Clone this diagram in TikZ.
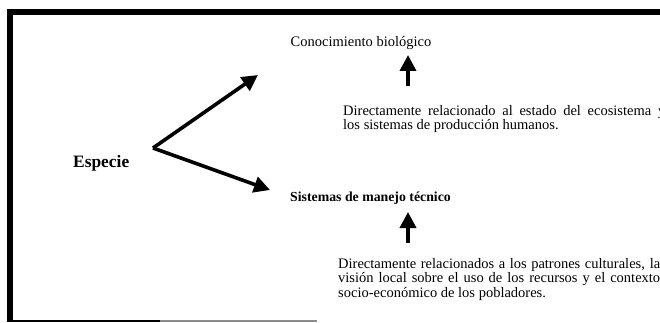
\documentclass[tikz,border=0pt]{standalone}
\usepackage{fontspec}
\setmainfont{Liberation Serif}
\usetikzlibrary{arrows.meta}

\begin{document}
\begin{tikzpicture}[x=1pt,y=-1pt,
  flecha/.style={line width=3.6pt,-{Triangle[length=16pt,width=16pt]}},
  titulo/.style={anchor=base west,inner sep=0pt,font=\fontsize{14.5}{16}\selectfont},
  bloque/.style={anchor=north west,inner sep=0pt,text width=322pt,align=justify,font=\fontsize{14.5}{11.7}\selectfont}]
\useasboundingbox (0,0) rectangle (660,323);
\clip (0,0) rectangle (660,323);
% marco
\draw[line width=6pt] (10,321) -- (10,12) -- (680,12);
\draw[line width=2.5pt] (7,321) -- (160,321);
\draw[line width=2pt,black!45] (160,321) -- (317,321);

% especie
\node[anchor=base west,inner sep=0pt,font=\bfseries\fontsize{17.4}{20}\selectfont] (esp) at (73,167.5) {Especie};
\coordinate (v) at (153,148);
\coordinate (t1) at (258,75);
\coordinate (t2) at (270,190);
\draw[flecha] (v) -- (t1);
\draw[flecha] (v) -- (t2);

% arriba
\node[titulo] (conoc) at (290.5,46.5) {Conocimiento biológico};
\node[bloque] (dir1) at (343,105.5) {Directamente relacionado al estado del ecosistema y\linebreak los sistemas de producción humanos.};
\coordinate (b1) at (408,86);
\coordinate (a1) at (408,55);
\draw[flecha] (b1) -- (a1);

% abajo
\node[titulo,font=\bfseries\fontsize{13.8}{16}\selectfont] (sist) at (290,201.5) {Sistemas de manejo técnico};
\node[bloque] (dir2) at (338,258.5) {Directamente relacionados a los patrones culturales, la\linebreak visión local sobre el uso de los recursos y el contexto\linebreak socio-económico de los pobladores.};
\coordinate (b2) at (408,243);
\coordinate (a2) at (408,212);
\draw[flecha] (b2) -- (a2);

\end{tikzpicture}
\end{document}
